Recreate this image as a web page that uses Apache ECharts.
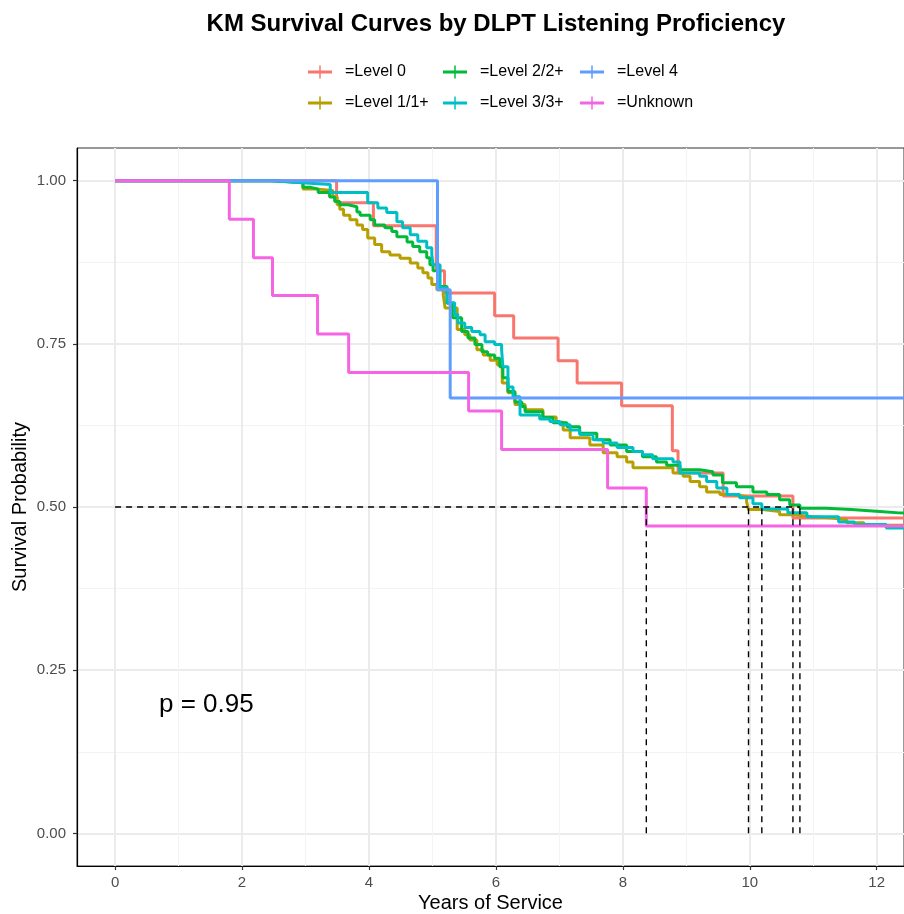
<!DOCTYPE html>
<html>
<head>
<meta charset="utf-8">
<script src="https://cdn.jsdelivr.net/npm/echarts@6/dist/echarts.min.js"></script>
<style>
  html, body { margin: 0; padding: 0; background: #fff; }
  #chart { width: 904px; height: 914px; }
</style>
</head>
<body>
<div id="chart"></div>
<script>
// group names and colours (ggplot hue palette)
const groups = ['=Level 0', '=Level 1/1+', '=Level 2/2+', '=Level 3/3+', '=Level 4', '=Unknown'];
const colors = ['#F8766D', '#B79F00', '#00BA38', '#00BFC4', '#619CFF', '#F564E3'];

// KM step points: time of each drop and the survival after it
const level0Time = [0, 3.49, 4.07, 5.06, 5.19, 5.98, 6.28, 6.98, 7.28, 7.98, 8.78, 8.87, 9.58, 10.68];
const level0Surv = [1, 0.966, 0.931, 0.862, 0.828, 0.793, 0.759, 0.724, 0.690, 0.655, 0.586, 0.552, 0.517, 0.483];

const level1Time = [0, 2.50, 2.96, 3.20, 3.43, 3.50, 3.54, 3.60, 3.70, 3.81, 3.90, 3.98, 4.09, 4.20, 4.33, 4.49, 4.65, 4.77, 4.85, 4.93, 4.99, 5.07, 5.17, 5.20, 5.39, 5.51, 5.59, 5.70, 5.80, 5.91, 6.02, 6.10, 6.19, 6.30, 6.46, 6.74, 6.95, 7.06, 7.17, 7.48, 7.69, 7.91, 8.06, 8.16, 8.79, 8.95, 9.06, 9.21, 9.32, 9.53, 9.69, 9.95, 9.98, 10.20, 10.47, 10.68, 11.00, 11.30, 11.53, 11.80];
const level1Surv = [1, 0.997, 0.987, 0.985, 0.975, 0.963, 0.956, 0.947, 0.940, 0.932, 0.925, 0.912, 0.902, 0.891, 0.886, 0.881, 0.874, 0.866, 0.859, 0.851, 0.841, 0.833, 0.825, 0.805, 0.772, 0.764, 0.756, 0.741, 0.733, 0.725, 0.718, 0.690, 0.675, 0.657, 0.649, 0.638, 0.630, 0.618, 0.606, 0.595, 0.583, 0.577, 0.569, 0.560, 0.552, 0.547, 0.539, 0.531, 0.523, 0.519, 0.516, 0.508, 0.496, 0.493, 0.488, 0.485, 0.483, 0.480, 0.476, 0.472];

const level2Time = [0, 2.47, 2.96, 3.07, 3.20, 3.38, 3.46, 3.54, 3.67, 3.81, 3.86, 4.02, 4.09, 4.25, 4.36, 4.44, 4.60, 4.69, 4.80, 4.91, 4.96, 5.01, 5.10, 5.23, 5.32, 5.46, 5.56, 5.67, 5.78, 5.87, 5.98, 6.06, 6.11, 6.19, 6.30, 6.41, 6.46, 6.74, 6.90, 7.12, 7.32, 7.59, 7.80, 8.06, 8.31, 8.53, 8.69, 8.90, 9.21, 9.42, 9.57, 9.79, 10.05, 10.27, 10.47, 10.63, 10.79, 11.20, 11.60, 12.05, 12.35];
const level2Surv = [1, 0.997, 0.990, 0.987, 0.982, 0.975, 0.968, 0.963, 0.960, 0.952, 0.947, 0.940, 0.932, 0.928, 0.922, 0.914, 0.906, 0.899, 0.891, 0.882, 0.871, 0.862, 0.838, 0.812, 0.790, 0.769, 0.759, 0.749, 0.738, 0.733, 0.728, 0.715, 0.698, 0.677, 0.661, 0.654, 0.646, 0.637, 0.629, 0.623, 0.613, 0.603, 0.595, 0.585, 0.577, 0.569, 0.564, 0.557, 0.554, 0.549, 0.537, 0.531, 0.523, 0.519, 0.511, 0.503, 0.498, 0.496, 0.493, 0.491, 0.488];

const level3Time = [0, 2.47, 2.88, 3.39, 3.98, 4.14, 4.28, 4.44, 4.53, 4.65, 4.77, 4.91, 4.99, 5.01, 5.12, 5.23, 5.35, 5.40, 5.51, 5.62, 5.75, 5.83, 5.98, 6.09, 6.11, 6.19, 6.27, 6.38, 6.69, 6.85, 7.01, 7.17, 7.32, 7.53, 7.69, 7.91, 8.16, 8.31, 8.47, 8.79, 8.90, 9.21, 9.32, 9.48, 9.64, 9.84, 10.05, 10.19, 10.60, 10.90, 11.40, 11.65, 12.15];
const level3Surv = [1, 0.997, 0.994, 0.982, 0.966, 0.958, 0.951, 0.937, 0.928, 0.917, 0.907, 0.897, 0.887, 0.871, 0.836, 0.813, 0.795, 0.782, 0.775, 0.769, 0.764, 0.753, 0.749, 0.741, 0.715, 0.684, 0.669, 0.641, 0.635, 0.631, 0.626, 0.618, 0.611, 0.603, 0.598, 0.591, 0.585, 0.580, 0.574, 0.569, 0.552, 0.547, 0.539, 0.529, 0.519, 0.514, 0.505, 0.497, 0.491, 0.485, 0.477, 0.473, 0.468];

const level4Time = [0, 5.08, 5.28];
const level4Surv = [1, 0.833, 0.667];

const unknownTime = [0, 1.80, 2.18, 2.48, 3.19, 3.68, 5.57, 6.09, 7.76, 8.37];
const unknownSurv = [1, 0.941, 0.882, 0.824, 0.765, 0.706, 0.647, 0.588, 0.529, 0.471];

const xTicks = [0, 2, 4, 6, 8, 10, 12];
const xMinor = [1, 3, 5, 7, 9, 11];
const yTicks = [0, 0.25, 0.5, 0.75, 1];
const yMinor = [0.125, 0.375, 0.625, 0.875];
const pValue = 'p = 0.95';

const times = [level0Time, level1Time, level2Time, level3Time, level4Time, unknownTime];
const survs = [level0Surv, level1Surv, level2Surv, level3Surv, level4Surv, unknownSurv];
const followEnd = 13;

const chart = echarts.init(document.getElementById('chart'));

const curveSeries = groups.map((name, i) => {
    const pts = times[i].map((t, k) => [t, survs[i][k]]);
    pts.push([followEnd, survs[i][survs[i].length - 1]]);
    return {
        name: name,
        type: 'line',
        step: 'end',
        data: pts,
        showSymbol: false,
        symbol: 'none',
        lineStyle: { color: colors[i], width: 3 },
        itemStyle: { color: colors[i] },
        emphasis: { disabled: true },
        z: 3 + i
    };
});

// median survival: first time each curve reaches 0.5 or below
const medians = [];
survs.forEach((s, i) => {
    const k = s.findIndex(v => v <= 0.5);
    if (k >= 0) medians.push(times[i][k]);
});
const maxMedian = Math.max(...medians);

const dashStyle = { color: '#000', width: 1.4, type: [6, 5] };
const medianSeries = [{
    type: 'line',
    data: [[0, 0.5], [maxMedian, 0.5]],
    symbol: 'none',
    lineStyle: dashStyle,
    emphasis: { disabled: true },
    z: 20
}].concat(medians.map(m => ({
    type: 'line',
    data: [[m, 0], [m, 0.5]],
    symbol: 'none',
    lineStyle: dashStyle,
    emphasis: { disabled: true },
    z: 20
})));

const crossIcon = 'path://M0,6.5h24v3h-24z M11.25,1.5h1.5v13h-1.5z M32,0L32,16';
const legendCols = [[groups[0], groups[1]], [groups[2], groups[3]], [groups[4], groups[5]]];
const legendLeft = [308, 443, 580];

const option = {
    backgroundColor: '#fff',
    animation: false,
    title: [
        {
            text: 'KM Survival Curves by DLPT Listening Proficiency',
            left: 491,
            top: 7,
            textAlign: 'center',
            textStyle: { fontFamily: 'Liberation Sans', fontSize: 24, fontWeight: 'bold', color: '#000' }
        },
        {
            text: pValue,
            left: 154,
            top: 687,
            textStyle: { fontFamily: 'Liberation Sans', fontSize: 26, fontWeight: 'normal', color: '#000' }
        }
    ],
    legend: legendCols.map((col, c) => ({
        data: col,
        orient: 'vertical',
        left: legendLeft[c],
        top: 64,
        padding: 0,
        itemGap: 15,
        itemWidth: 32,
        itemHeight: 16,
        icon: crossIcon,
        selectedMode: false,
        textStyle: { fontFamily: 'Liberation Sans', fontSize: 16, color: '#000' }
    })),
    grid: {
        left: 77,
        right: 0,
        top: 148,
        bottom: 48,
        show: true,
        borderColor: '#333',
        borderWidth: 1,
        containLabel: false,
        outerBoundsMode: 'none'
    },
    xAxis: [
        {
            type: 'value',
            min: -0.6,
            max: 12.43,
            name: 'Years of Service',
            nameLocation: 'middle',
            nameGap: 27,
            nameMoveOverlap: false,
            nameTextStyle: { fontFamily: 'Liberation Sans', fontSize: 20, color: '#000' },
            axisLine: { show: true, onZero: false, lineStyle: { color: '#000', width: 1.2 } },
            axisTick: { show: true, length: 4, customValues: xTicks, lineStyle: { color: '#333', width: 1.2 } },
            axisLabel: {
                customValues: xTicks,
                margin: 9,
                fontFamily: 'Liberation Sans',
                fontSize: 15,
                color: '#4D4D4D'
            },
            splitLine: { show: true, lineStyle: { color: '#EBEBEB', width: 2 } }
        },
        {
            type: 'value',
            min: -0.6,
            max: 12.43,
            position: 'bottom',
            axisLine: { show: false },
            axisTick: { show: false, customValues: xMinor },
            axisLabel: { show: false, customValues: xMinor },
            splitLine: { show: true, lineStyle: { color: '#F3F3F3', width: 1 } }
        }
    ],
    yAxis: [
        {
            type: 'value',
            min: -0.05,
            max: 1.05,
            name: 'Survival Probability',
            nameLocation: 'middle',
            nameGap: 47,
            nameMoveOverlap: false,
            nameTextStyle: { fontFamily: 'Liberation Sans', fontSize: 20, color: '#000' },
            axisLine: { show: true, onZero: false, lineStyle: { color: '#000', width: 1.2 } },
            axisTick: { show: true, length: 4, customValues: yTicks, lineStyle: { color: '#333', width: 1.2 } },
            axisLabel: {
                customValues: yTicks,
                margin: 11,
                fontFamily: 'Liberation Sans',
                fontSize: 15,
                color: '#4D4D4D',
                formatter: v => v.toFixed(2)
            },
            splitLine: { show: true, lineStyle: { color: '#EBEBEB', width: 2 } }
        },
        {
            type: 'value',
            min: -0.05,
            max: 1.05,
            position: 'left',
            axisLine: { show: false },
            axisTick: { show: false, customValues: yMinor },
            axisLabel: { show: false, customValues: yMinor },
            splitLine: { show: true, lineStyle: { color: '#F3F3F3', width: 1 } }
        }
    ],
    series: curveSeries.concat(medianSeries)
};

chart.setOption(option);
</script>
</body>
</html>
